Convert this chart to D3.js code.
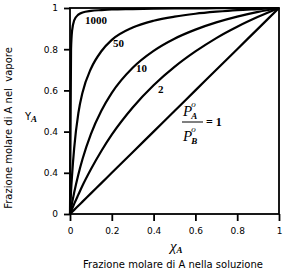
<!DOCTYPE html>
<html>
<head>
<meta charset="utf-8">
<script src="https://cdn.jsdelivr.net/npm/d3@7"></script>
<style>
  body { margin: 0; background: #fff; }
  svg { display: block; }
</style>
</head>
<body>
<svg id="chart" width="289" height="271"></svg>
<script>
// values
var xMol = [0, 0.005, 0.01, 0.02, 0.04, 0.06, 0.1, 0.15, 0.2, 0.3, 0.4, 0.5, 0.6, 0.7, 0.8, 0.9, 1];
var y1000 = [0, 0.8, 0.89, 0.94, 0.968, 0.978, 0.986, 0.99, 0.993, 0.995, 0.997, 0.998, 0.998, 0.999, 0.999, 1, 1];
var y50 = [0, 0.11, 0.19, 0.32, 0.49, 0.59, 0.705, 0.79, 0.845, 0.905, 0.938, 0.958, 0.972, 0.982, 0.99, 0.995, 1];
var y10 = [0, 0.028, 0.054, 0.104, 0.192, 0.267, 0.388, 0.501, 0.588, 0.71, 0.792, 0.851, 0.895, 0.93, 0.958, 0.981, 1];
var y2 = [0, 0.012, 0.025, 0.049, 0.094, 0.138, 0.217, 0.306, 0.385, 0.517, 0.625, 0.714, 0.789, 0.854, 0.909, 0.957, 1];
var y1 = [0, 0.005, 0.01, 0.02, 0.04, 0.06, 0.1, 0.15, 0.2, 0.3, 0.4, 0.5, 0.6, 0.7, 0.8, 0.9, 1];

var curveNames = ["1000", "50", "10", "2"];
var xTicks = [0, 0.2, 0.4, 0.6, 0.8, 1];
var xTickLabels = ["0", "0.2", "0.4", "0.6", "0.8", "1"];
var yTicks = [0, 0.2, 0.4, 0.6, 0.8, 1];
var yTickLabels = ["0", "0.4", "0.4", "0.6", "0.8", "1"];

var plotLeft = 70, plotRight = 279, plotTop = 8, plotBottom = 214;
var sans = "'DejaVu Sans', Verdana, sans-serif";
var serif = "'Liberation Serif', 'Times New Roman', serif";

var svg = d3.select("#chart");

var x = d3.scaleLinear().domain([0, 1]).range([plotLeft, plotRight]);
var y = d3.scaleLinear().domain([0, 1]).range([plotBottom, plotTop]);

// axes
var xAxis = d3.axisBottom(x).tickValues(xTicks).tickSize(7).tickSizeOuter(0)
    .tickFormat(function(d, i) { return xTickLabels[i]; });
var yAxis = d3.axisLeft(y).tickValues(yTicks).tickSize(6).tickSizeOuter(0)
    .tickFormat(function(d, i) { return yTickLabels[i]; });

var gx = svg.append("g").attr("transform", "translate(0," + plotBottom + ")").call(xAxis);
var gy = svg.append("g").attr("transform", "translate(" + plotLeft + ",0)").call(yAxis);

[gx, gy].forEach(function(g) {
    g.select(".domain").remove();
    g.selectAll(".tick line").attr("stroke", "#000").attr("stroke-width", 1.8);
    g.selectAll(".tick text").attr("fill", "#000")
        .style("font-family", sans).style("font-size", "9px");
});
gx.selectAll(".tick text").attr("dy", "0.71em").attr("y", 14);
gy.selectAll(".tick text").attr("x", -12);

// frame
svg.append("rect")
    .attr("x", plotLeft).attr("y", plotTop)
    .attr("width", plotRight - plotLeft).attr("height", plotBottom - plotTop)
    .attr("fill", "none").attr("stroke", "#000").attr("stroke-width", 1.8);

// curves
var series = [y1000, y50, y10, y2, y1];
var line = d3.line()
    .x(function(d) { return x(d[0]); })
    .y(function(d) { return y(d[1]); })
    .curve(d3.curveMonotoneX);

svg.append("g").selectAll("path")
    .data(series)
    .enter().append("path")
    .attr("d", function(s) { return line(xMol.map(function(v, i) { return [v, s[i]]; })); })
    .attr("fill", "none")
    .attr("stroke", "#000")
    .attr("stroke-width", 2.2);

// curve labels
var labelPos = [[0.072, 0.922], [0.206, 0.811], [0.316, 0.689], [0.421, 0.587]];
svg.append("g").selectAll("text")
    .data(curveNames)
    .enter().append("text")
    .attr("x", function(d, i) { return x(labelPos[i][0]); })
    .attr("y", function(d, i) { return y(labelPos[i][1]); })
    .style("font-family", serif).style("font-weight", "bold").style("font-size", "11px")
    .text(function(d) { return d; });

// P°A / P°B = 1
var fx = 183, fy = 122;
var frac = svg.append("g").style("font-family", serif).style("font-style", "italic");
var num = frac.append("text").attr("x", fx).attr("y", fy - 6).style("font-size", "15px");
num.append("tspan").text("P");
num.append("tspan").attr("dx", -1).attr("dy", 3).style("font-size", "9px").style("font-weight", "bold").text("A");
num.append("tspan").attr("dx", -6).attr("dy", -12).style("font-size", "9px").text("o");
var den = frac.append("text").attr("x", fx).attr("y", fy + 19).style("font-size", "15px");
den.append("tspan").text("P");
den.append("tspan").attr("dx", -1).attr("dy", 3).style("font-size", "9px").style("font-weight", "bold").text("B");
den.append("tspan").attr("dx", -6).attr("dy", -12).style("font-size", "9px").text("o");
svg.append("line").attr("x1", fx - 1).attr("x2", fx + 20).attr("y1", fy).attr("y2", fy)
    .attr("stroke", "#000").attr("stroke-width", 1);
svg.append("text").attr("x", fx + 23).attr("y", fy + 4)
    .style("font-family", serif).style("font-weight", "bold").style("font-size", "12px")
    .text("= 1");

// axis titles
var yt = svg.append("text").attr("x", 25).attr("y", 120)
    .style("font-family", sans).style("font-size", "10px");
yt.append("tspan").text("Y");
yt.append("tspan").attr("dy", 2).style("font-family", serif).style("font-style", "italic")
    .style("font-weight", "bold").style("font-size", "9px").text("A");

var xt = svg.append("text").attr("x", 170).attr("y", 251)
    .style("font-family", serif).style("font-style", "italic").style("font-size", "15px");
xt.append("tspan").text("χ");
xt.append("tspan").attr("dy", 2).style("font-size", "9px").style("font-weight", "bold").text("A");

svg.append("text").attr("x", 173).attr("y", 268)
    .attr("text-anchor", "middle")
    .style("font-family", sans).style("font-size", "10px")
    .text("Frazione molare di A nella soluzione");

svg.append("text")
    .attr("transform", "translate(12,128) rotate(-90)")
    .attr("text-anchor", "middle")
    .style("font-family", sans).style("font-size", "10px")
    .style("white-space", "pre")
    .text("Frazione molare di A nel  vapore");
</script>
</body>
</html>
